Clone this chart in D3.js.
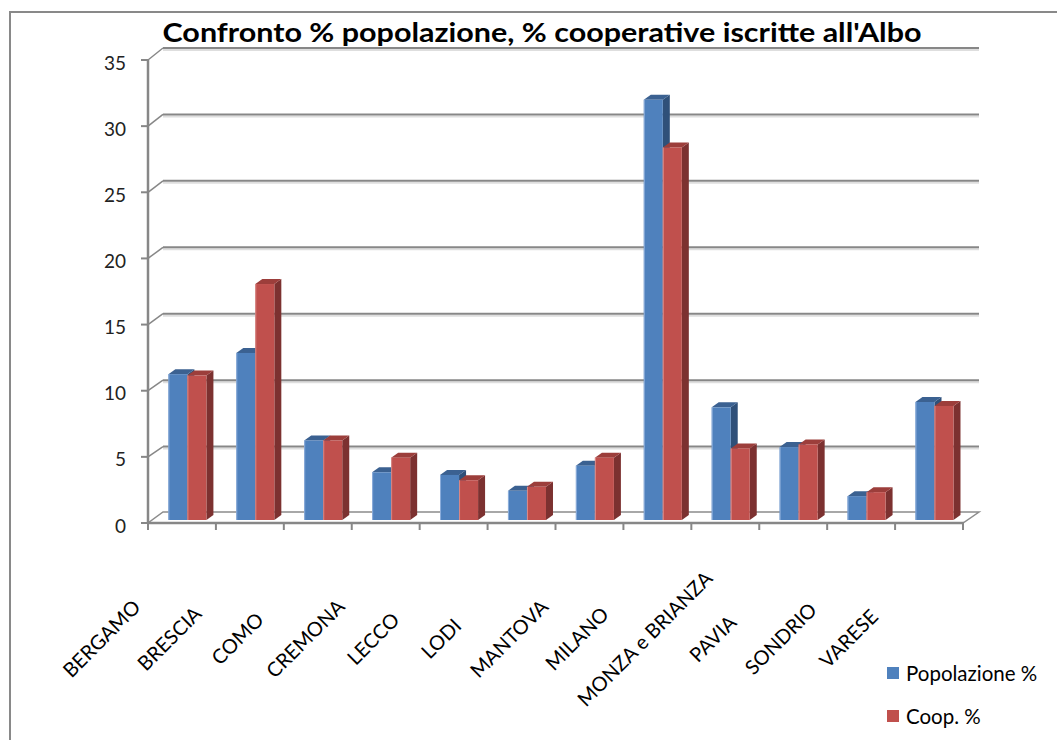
<!DOCTYPE html>
<html>
<head>
<meta charset="utf-8">
<script src="https://cdn.jsdelivr.net/npm/d3@7"></script>
<style>
  html, body { margin: 0; padding: 0; background: #fff; }
  svg { display: block; font-family: Lato, "Open Sans", sans-serif; }
</style>
</head>
<body>
<svg id="chart" width="1057" height="740"></svg>
<script>
// Provinces of Lombardy and the two compared shares
const categories = ["BERGAMO", "BRESCIA", "COMO", "CREMONA", "LECCO", "LODI",
  "MANTOVA", "MILANO", "MONZA e BRIANZA", "PAVIA", "SONDRIO", "VARESE"];
const popolazione = [11.0, 12.6, 6.0, 3.6, 3.4, 2.2, 4.1, 31.7, 8.5, 5.5, 1.8, 8.9];
const coop = [10.9, 17.8, 6.0, 4.7, 3.0, 2.5, 4.7, 28.1, 5.4, 5.7, 2.1, 8.6];
const yTicks = [0, 5, 10, 15, 20, 25, 30, 35];
const seriesNames = ["Popolazione %", "Coop. %"];
const title = "Confronto % popolazione, % cooperative iscritte all'Albo";

const svg = d3.select("#chart");

// 3D box depth offsets
const depthX = 15, depthY = 10;   // front plane -> back wall
const barDX = 7, barDY = 5;       // depth of each column

const x = d3.scaleBand().domain(categories).range([148, 963]).paddingInner(0).paddingOuter(0);
const yFront = d3.scaleLinear().domain([0, 35]).range([523, 60]);
const yBack = d3.scaleLinear().domain([0, 35]).range([513, 48]);
const yBar = d3.scaleLinear().domain([0, 35]).range([520, 56]);

// outer chart border
svg.append("rect").attr("x", 10).attr("y", 12).attr("width", 1100).attr("height", 800)
  .attr("fill", "none").attr("stroke", "#898989").attr("stroke-width", 2);

// back-wall gridlines with their connectors to the front axis
const grid = svg.append("g");
yTicks.filter(d => d > 0).forEach(v => {
  grid.append("line").attr("x1", 148 + depthX).attr("x2", 963 + depthX + 1)
    .attr("y1", yBack(v) + 2).attr("y2", yBack(v) + 2)
    .attr("stroke", "#dedede").attr("stroke-width", 2);
  grid.append("line").attr("x1", 148 + depthX).attr("x2", 963 + depthX + 1)
    .attr("y1", yBack(v)).attr("y2", yBack(v))
    .attr("stroke", "#878787").attr("stroke-width", 2);
  grid.append("line").attr("x1", 148).attr("x2", 148 + depthX)
    .attr("y1", yFront(v)).attr("y2", yBack(v))
    .attr("stroke", "#878787").attr("stroke-width", 1.5);
});

// floor
const x0 = x.range()[0], x1 = x.range()[1];
svg.append("path")
  .attr("d", `M${x0},${yFront(0)} L${x1},${yFront(0)} L${x1 + depthX + 1},${yBack(0) - 1} L${x0 + depthX},${yBack(0) - 1} Z`)
  .attr("fill", "#fff").attr("stroke", "#8c8c8c").attr("stroke-width", 1.5);

// columns
const bw = x.bandwidth() * 0.28;
const colors = [
  { front: "#4f81bd", top: "#3b6191", side: "#2f5079", edge: "#8eaedb" },
  { front: "#c0504d", top: "#9c3e3b", side: "#7c3130", edge: "#d98a88" }
];
const bars = svg.append("g");
categories.forEach((c, i) => {
  [popolazione[i], coop[i]].forEach((v, s) => {
    const bx = x(c) + x.bandwidth() * 0.3 + s * bw;
    const top = yBar(v), base = yBar(0);
    const col = colors[s];
    const g = bars.append("g");
    g.append("path")
      .attr("d", `M${bx + bw},${top} L${bx + bw + barDX},${top - barDY} L${bx + bw + barDX},${base - barDY} L${bx + bw},${base} Z`)
      .attr("fill", col.side);
    g.append("path")
      .attr("d", `M${bx},${top} L${bx + barDX},${top - barDY} L${bx + bw + barDX},${top - barDY} L${bx + bw},${top} Z`)
      .attr("fill", col.top);
    g.append("rect").attr("x", bx).attr("y", top).attr("width", bw).attr("height", base - top)
      .attr("fill", col.front);
    g.append("line").attr("x1", bx + 0.5).attr("x2", bx + 0.5).attr("y1", top).attr("y2", base)
      .attr("stroke", col.edge).attr("stroke-width", 1);
  });
});

// front axes
const axisG = svg.append("g");
axisG.append("line").attr("x1", 148).attr("x2", 148).attr("y1", yFront(35)).attr("y2", yFront(0) + 1)
  .attr("stroke", "#878787").attr("stroke-width", 2.5);
axisG.append("line").attr("x1", x0).attr("x2", x1 + 1).attr("y1", yFront(0)).attr("y2", yFront(0))
  .attr("stroke", "#878787").attr("stroke-width", 2.5);
yTicks.forEach(v => {
  axisG.append("line").attr("x1", 141).attr("x2", 148).attr("y1", yFront(v)).attr("y2", yFront(v))
    .attr("stroke", "#878787").attr("stroke-width", 2);
  axisG.append("text").attr("x", 126).attr("y", yFront(v) + 2)
    .attr("text-anchor", "end").attr("dominant-baseline", "central")
    .attr("font-size", 19).attr("fill", "#222").text(v);
});
d3.range(categories.length + 1).forEach(i => {
  const tx = x0 + i * x.bandwidth();
  axisG.append("line").attr("x1", tx).attr("x2", tx).attr("y1", yFront(0)).attr("y2", yFront(0) + 7)
    .attr("stroke", "#878787").attr("stroke-width", 2);
});

// rotated category labels
categories.forEach(c => {
  const cx = x(c) + x.bandwidth() / 2 - 81, cy = 638;
  svg.append("text").attr("transform", `translate(${cx},${cy}) rotate(-45)`)
    .attr("text-anchor", "middle").attr("dominant-baseline", "central")
    .attr("font-size", 20).attr("fill", "#000").text(c);
});

// title (slightly widened lettering)
svg.append("text").attr("transform", "translate(542,42) scale(1.13,1)").attr("text-anchor", "middle")
  .attr("font-size", 27).attr("font-weight", "bold").attr("fill", "#000").text(title);

// legend
seriesNames.forEach((name, s) => {
  const ly = 673 + s * 43;
  svg.append("rect").attr("x", 887).attr("y", ly - 6).attr("width", 12).attr("height", 12)
    .attr("fill", colors[s].front);
  svg.append("text").attr("x", 906).attr("y", ly).attr("dominant-baseline", "central")
    .attr("font-size", 20.5).attr("fill", "#000").text(name);
});
</script>
</body>
</html>
